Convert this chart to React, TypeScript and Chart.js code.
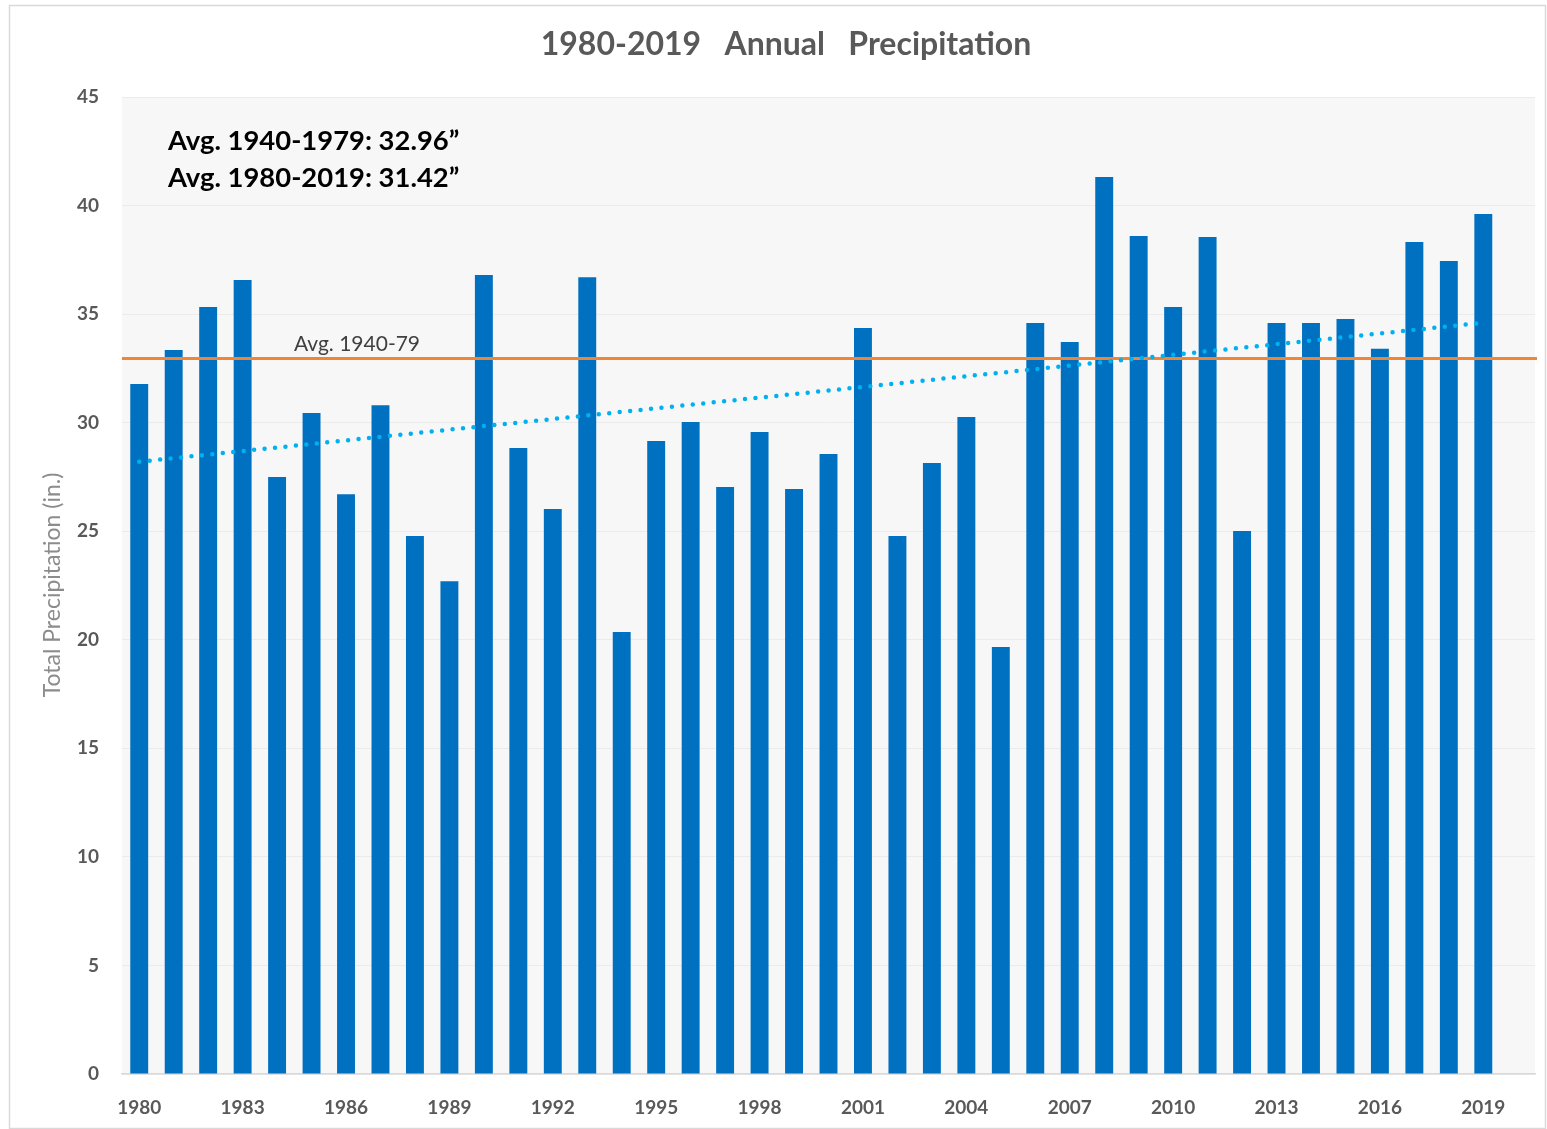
import React, { useEffect, useRef } from "react";
import { Chart, registerables } from "chart.js";

Chart.register(...registerables);

const years: string[] = [
  "1980","1981","1982","1983","1984","1985","1986","1987","1988","1989",
  "1990","1991","1992","1993","1994","1995","1996","1997","1998","1999",
  "2000","2001","2002","2003","2004","2005","2006","2007","2008","2009",
  "2010","2011","2012","2013","2014","2015","2016","2017","2018","2019",
];

const precipitation: number[] = [
  31.78, 33.35, 35.33, 36.57, 27.5, 30.45, 26.7, 30.8, 24.78, 22.7,
  36.8, 28.83, 26.02, 36.7, 20.36, 29.16, 30.03, 27.04, 29.57, 26.95,
  28.56, 34.36, 24.78, 28.14, 30.26, 19.67, 34.59, 33.72, 41.32, 38.6,
  35.33, 38.55, 25.01, 34.59, 34.59, 34.78, 33.4, 38.32, 37.45, 39.61,
];

// The source axis keeps one empty slot after 2019
const emptyTrailingSlot = "";

// Linear trend line: read at its two ends (1980 and 2019)
const trendStart = 28.2;
const trendEnd = 34.6;
const trendValues: (number | null)[] = years.map((_, i) =>
  i === 0 ? trendStart : i === years.length - 1 ? trendEnd : null
);

const avg1940to1979 = 32.96;
const yTicks: number[] = [0, 5, 10, 15, 20, 25, 30, 35, 40, 45];

const titleText = "1980-2019   Annual   Precipitation";
const noteLines: string[] = ["Avg. 1940-1979: 32.96\u201D", "Avg. 1980-2019: 31.42\u201D"];
const avgLabel = "Avg. 1940-79";
const yTitle = "Total Precipitation (in.)";

const FONT = "Lato, 'Open Sans', sans-serif";

export default function App() {
  const ref = useRef<HTMLCanvasElement | null>(null);

  useEffect(() => {
    document.body.style.margin = "0";
    const canvas = ref.current;
    if (!canvas) return;

    const labels = [...years, emptyTrailingSlot];
    const barData: (number | null)[] = [...precipitation, null];
    const lineData: (number | null)[] = [...trendValues, null];

    const decor = {
      id: "decor",
      beforeDraw(chart: any) {
        const { ctx, chartArea } = chart;
        ctx.save();
        ctx.fillStyle = "#ffffff";
        ctx.fillRect(0, 0, chart.width, chart.height);
        ctx.strokeStyle = "#d9d9d9";
        ctx.lineWidth = 1.5;
        ctx.strokeRect(9.5, 5.5, chart.width - 11, chart.height - 6);
        ctx.fillStyle = "#f7f7f7";
        ctx.fillRect(chartArea.left, chartArea.top, chartArea.right - chartArea.left, chartArea.bottom - chartArea.top);
        ctx.restore();
      },
      beforeDatasetDraw(chart: any, args: any) {
        if (args.meta.type !== "line") return;
        const { ctx, chartArea, scales } = chart;
        const y = scales.y.getPixelForValue(avg1940to1979);
        ctx.save();
        ctx.strokeStyle = "#F08535";
        ctx.lineWidth = 3;
        ctx.beginPath();
        ctx.moveTo(chartArea.left, y);
        ctx.lineTo(chartArea.right + 2, y);
        ctx.stroke();
        ctx.fillStyle = "#404040";
        ctx.font = `21px ${FONT}`;
        ctx.textAlign = "center";
        ctx.textBaseline = "bottom";
        ctx.fillText(avgLabel, 357, y - 4);
        ctx.restore();
      },
      afterDraw(chart: any) {
        const { ctx } = chart;
        ctx.save();
        ctx.fillStyle = "#595959";
        ctx.font = `bold 32px ${FONT}`;
        ctx.textAlign = "center";
        ctx.textBaseline = "middle";
        ctx.fillText(titleText, 786, 45);

        ctx.fillStyle = "#000000";
        ctx.font = `bold 27.4px ${FONT}`;
        ctx.textAlign = "left";
        ctx.fillText(noteLines[0], 168, 141);
        ctx.fillText(noteLines[1], 168, 178);

        ctx.translate(53, 585);
        ctx.rotate(-Math.PI / 2);
        ctx.fillStyle = "#8c8c8c";
        ctx.font = `23px ${FONT}`;
        ctx.textAlign = "center";
        ctx.fillText(yTitle, 0, 0);
        ctx.restore();
      },
    };

    const chart = new Chart(canvas, {
      type: "bar",
      data: {
        labels,
        datasets: [
          {
            type: "bar",
            label: "Precipitation",
            data: barData,
            backgroundColor: "#0070C0",
            borderWidth: 0,
            barPercentage: 0.52,
            categoryPercentage: 1,
            order: 1,
          },
          {
            type: "line",
            label: "Trend",
            data: lineData,
            spanGaps: true,
            borderColor: "#00B0F0",
            borderWidth: 4.5,
            borderDash: [0, 10.5],
            borderCapStyle: "round",
            pointRadius: 0,
            fill: false,
            order: 0,
          } as any,
        ],
      },
      options: {
        responsive: false,
        animation: false,
        layout: { padding: { top: 97, right: 12, left: 0, bottom: 0 } },
        plugins: {
          legend: { display: false },
          tooltip: { enabled: false },
          title: { display: false },
        },
        scales: {
          x: {
            grid: { display: false, drawTicks: false },
            border: { display: true, color: "#d9d9d9", width: 1.5 },
            ticks: {
              autoSkip: false,
              maxRotation: 0,
              minRotation: 0,
              padding: 22,
              color: "#595959",
              font: { family: FONT, size: 19, weight: "bold" },
              callback: (_v: any, i: number) => (i % 3 === 0 && i < years.length ? years[i] : ""),
            },
            afterFit: (s: any) => { s.height = 55; },
          },
          y: {
            min: 0,
            max: 45,
            afterBuildTicks: (s: any) => { s.ticks = yTicks.map((v) => ({ value: v })); },
            grid: { color: "#ebebeb", lineWidth: 1, drawTicks: false },
            border: { display: false },
            ticks: {
              padding: 23,
              color: "#595959",
              font: { family: FONT, size: 19, weight: "bold" },
            },
            afterFit: (s: any) => { s.width = 122; },
          },
        },
      },
      plugins: [decor],
    });

    return () => chart.destroy();
  }, []);

  return (
    <div style={{ width: 1547, height: 1129 }}>
      <canvas ref={ref} width={1547} height={1129} style={{ display: "block" }} />
    </div>
  );
}
